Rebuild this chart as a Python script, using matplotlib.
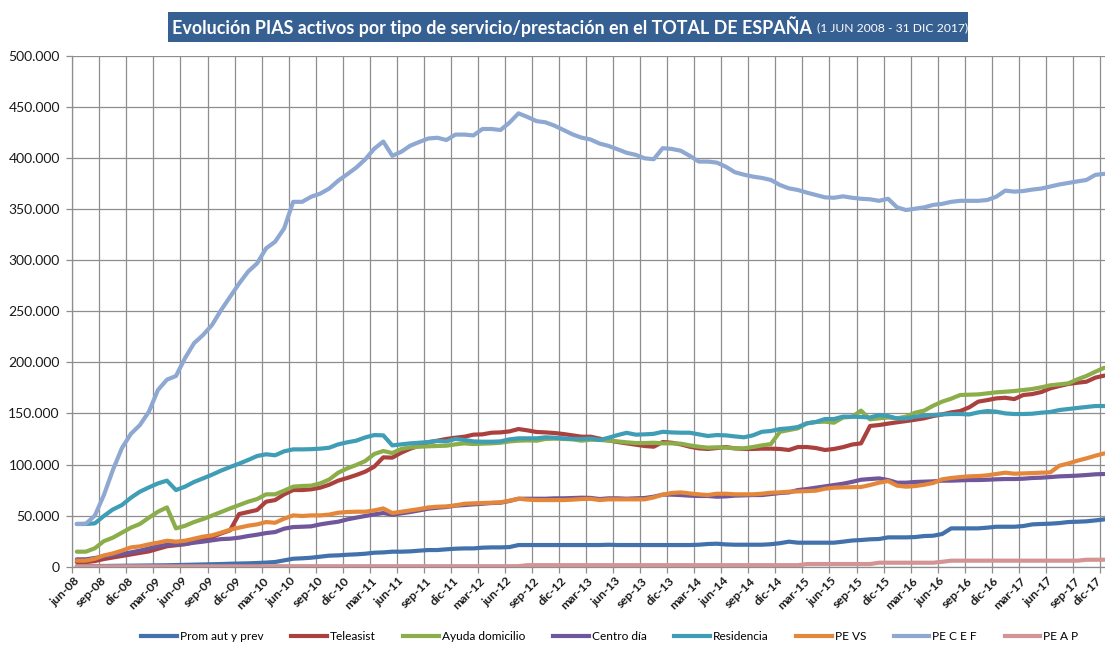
import numpy as np
import matplotlib
matplotlib.use('Agg')
import matplotlib.pyplot as plt
import matplotlib.transforms as mtrans
from matplotlib.patches import Rectangle
from matplotlib.lines import Line2D

plt.rcParams['font.family'] = ['Lato', 'DejaVu Sans']

# ---------------- data (values in thousands of people, monthly jun-08 .. dic-17) -------------
tick_labels = ['jun-08', 'sep-08', 'dic-08', 'mar-09', 'jun-09', 'sep-09', 'dic-09', 'mar-10',
               'jun-10', 'sep-10', 'dic-10', 'mar-11', 'jun-11', 'sep-11', 'dic-11', 'mar-12',
               'jun-12', 'sep-12', 'dic-12', 'mar-13', 'jun-13', 'sep-13', 'dic-13', 'mar-14',
               'jun-14', 'sep-14', 'dic-14', 'mar-15', 'jun-15', 'sep-15', 'dic-15', 'mar-16',
               'jun-16', 'sep-16', 'dic-16', 'mar-17', 'jun-17', 'sep-17', 'dic-17']

series_names = ['Prom aut y prev', 'Teleasist', 'Ayuda domicilio', 'Centro día',
                'Residencia', 'PE VS', 'PE C E F', 'PE A P']

prom_aut = [0.5, 0.5, 0.6, 0.7, 0.8, 0.9, 1.0, 1.1, 1.2, 1.3, 1.4, 1.6, 1.8, 2.0, 2.2, 2.4, 2.6, 2.9, 3.1, 3.3,
            3.6, 4.0, 4.6, 6.2, 7.8, 8.2, 8.8, 9.8, 10.8, 11.1, 11.7, 12.1, 12.7, 13.7, 14.0, 14.7, 14.7, 15.0, 15.7, 16.3,
            16.3, 17.0, 17.6, 17.9, 17.9, 18.6, 18.9, 18.9, 19.2, 21.2, 21.2, 21.2, 21.2, 21.2, 21.2, 21.2, 21.2, 21.2, 21.2, 21.5,
            21.2, 21.2, 21.2, 21.2, 21.2, 21.2, 21.2, 21.2, 21.2, 21.5, 22.2, 22.5, 21.8, 21.5, 21.5, 21.5, 21.5, 22.0, 23.0, 24.5,
            23.5, 23.5, 23.5, 23.5, 23.5, 24.5, 25.6, 26.1, 26.8, 27.1, 28.7, 28.7, 28.7, 29.0, 30.0, 30.3, 32.0, 37.5, 37.5, 37.5,
            37.5, 38.2, 39.1, 39.1, 39.1, 39.8, 41.4, 41.8, 42.1, 42.7, 43.7, 44.0, 44.4, 45.3, 46.3]

teleasist = [4.5, 4.5, 5.5, 7.5, 9.0, 10.5, 12.0, 13.5, 15.0, 17.5, 20.0, 21.0, 22.0, 24.0, 26.0, 29.0, 32.5, 35.6, 51.5, 53.5,
             55.5, 63.6, 65.2, 70.8, 75.0, 75.0, 75.7, 77.3, 80.2, 84.2, 86.8, 89.7, 93.0, 97.9, 107.0, 106.7, 111.6, 115.5, 118.4, 121.7,
             123.3, 125.0, 126.2, 127.2, 129.2, 129.5, 131.1, 131.4, 132.4, 134.7, 133.4, 131.8, 131.4, 130.8, 129.8, 128.5, 127.2, 127.2, 125.3, 123.6,
             122.0, 120.7, 119.4, 118.1, 117.4, 122.0, 121.3, 119.7, 117.4, 115.8, 115.2, 116.1, 117.1, 115.8, 115.2, 115.2, 115.5, 115.5, 115.2, 114.2,
             117.1, 117.1, 116.1, 114.2, 115.2, 117.0, 119.5, 120.7, 137.7, 138.6, 140.0, 141.3, 142.5, 143.8, 145.2, 147.4, 149.0, 151.0, 152.3, 155.9,
             161.5, 163.0, 164.7, 165.3, 164.0, 168.0, 168.9, 170.9, 174.5, 176.8, 178.8, 180.0, 181.0, 185.0, 187.0]

ayuda_dom = [14.7, 14.7, 18.0, 25.0, 28.4, 33.3, 38.2, 41.8, 48.0, 53.8, 58.0, 37.5, 40.0, 43.7, 46.6, 50.0, 53.5, 57.0, 60.3, 63.6,
             66.2, 70.8, 70.8, 74.4, 78.3, 79.0, 79.3, 81.5, 85.3, 92.0, 96.2, 99.5, 103.4, 110.3, 113.2, 111.2, 115.2, 116.8, 117.4, 117.8,
             118.1, 118.4, 119.7, 120.7, 120.0, 120.4, 120.7, 121.3, 122.6, 123.3, 123.6, 123.3, 125.0, 125.3, 125.0, 124.6, 123.3, 124.3, 124.0, 123.3,
             122.6, 121.7, 121.0, 121.0, 121.3, 120.7, 120.7, 120.4, 118.7, 117.4, 116.5, 116.8, 116.5, 115.8, 115.8, 117.1, 118.7, 120.0, 132.0, 133.7,
             135.4, 140.3, 141.6, 141.9, 140.9, 146.0, 146.6, 152.7, 144.2, 145.2, 146.0, 145.2, 146.8, 150.7, 152.7, 157.5, 161.5, 164.4, 168.0, 168.3,
             168.6, 169.6, 170.6, 171.2, 171.9, 172.9, 173.9, 175.5, 177.5, 178.4, 179.4, 183.3, 186.6, 190.8, 194.7]

centro_dia = [7.2, 7.2, 8.5, 10.1, 11.4, 12.4, 14.0, 15.7, 17.9, 19.9, 21.5, 21.9, 22.2, 23.5, 24.5, 25.8, 27.0, 27.4, 28.4, 30.0,
              31.3, 32.9, 33.9, 37.2, 38.8, 39.1, 39.5, 41.4, 42.8, 44.0, 46.3, 48.0, 49.6, 51.2, 52.5, 50.9, 52.2, 53.5, 55.1, 56.8,
              57.7, 58.4, 59.7, 60.3, 61.0, 61.6, 62.3, 62.6, 64.3, 66.5, 66.5, 66.5, 66.5, 66.9, 66.9, 67.2, 67.5, 67.3, 66.2, 66.9,
              66.9, 66.5, 66.9, 67.2, 68.5, 70.5, 70.5, 70.1, 69.5, 69.2, 69.2, 68.5, 68.8, 69.5, 69.8, 70.1, 70.1, 71.1, 72.1, 72.7,
              75.0, 76.0, 77.3, 78.6, 79.9, 81.2, 83.0, 85.1, 85.8, 86.4, 84.8, 82.2, 82.2, 82.9, 83.2, 83.5, 84.2, 84.2, 84.5, 84.8,
              84.8, 85.1, 85.5, 85.8, 85.8, 86.1, 86.8, 87.1, 87.7, 88.4, 88.7, 89.1, 89.7, 90.4, 90.7]

residencia = [41.8, 41.8, 42.4, 49.6, 56.0, 60.3, 67.5, 73.4, 77.6, 81.5, 84.2, 75.0, 78.3, 82.9, 86.4, 90.0, 94.0, 97.5, 100.8, 104.4,
              108.3, 110.0, 109.0, 112.9, 114.8, 114.8, 115.0, 115.5, 116.4, 119.7, 121.7, 123.3, 126.5, 128.8, 128.5, 118.7, 119.7, 120.7, 121.3, 122.0,
              123.0, 122.6, 125.0, 124.0, 122.6, 122.3, 122.3, 122.6, 124.6, 125.6, 125.6, 125.6, 126.6, 126.2, 125.6, 125.0, 125.0, 125.4, 124.0, 126.2,
              128.8, 131.0, 129.2, 129.5, 130.0, 132.0, 131.4, 131.1, 131.1, 129.5, 127.9, 128.8, 128.5, 127.5, 126.6, 128.5, 132.0, 132.8, 134.7, 135.4,
              136.7, 140.3, 141.6, 144.5, 144.5, 146.8, 146.8, 146.5, 146.0, 148.4, 147.4, 145.0, 145.0, 146.8, 147.8, 148.4, 149.0, 149.4, 149.4, 149.0,
              151.0, 152.3, 151.7, 150.0, 149.4, 149.4, 149.7, 150.7, 151.4, 153.3, 154.3, 155.3, 156.3, 157.2, 157.2]

pe_vs = [5.9, 5.9, 7.8, 11.0, 13.0, 15.7, 18.9, 19.9, 21.9, 23.5, 25.4, 24.5, 25.4, 27.4, 29.4, 30.7, 33.3, 36.2, 38.2, 40.1,
         41.4, 43.7, 43.0, 47.0, 50.2, 49.6, 50.2, 50.2, 51.0, 52.8, 53.5, 53.8, 53.8, 55.1, 57.0, 52.5, 53.8, 55.1, 56.4, 58.0,
         58.7, 59.0, 60.0, 61.6, 62.0, 62.3, 62.6, 63.0, 64.6, 66.5, 65.6, 65.2, 65.2, 65.2, 65.2, 65.6, 66.2, 66.4, 65.2, 65.9,
         65.9, 65.9, 65.9, 65.9, 67.8, 70.5, 72.1, 72.7, 71.7, 70.8, 70.1, 71.4, 71.4, 70.8, 70.8, 70.8, 71.4, 72.4, 72.7, 73.4,
         73.7, 74.0, 74.4, 76.3, 77.3, 77.6, 77.8, 78.0, 79.9, 82.2, 83.8, 79.3, 78.3, 78.9, 80.2, 81.9, 85.5, 86.8, 87.7, 88.4,
         88.7, 89.4, 90.7, 92.0, 91.0, 91.3, 91.6, 92.0, 92.3, 98.8, 101.0, 103.7, 106.0, 108.6, 110.9]

pe_cef = [41.8, 42.0, 50.0, 70.0, 94.6, 116.0, 130.0, 138.6, 151.7, 172.9, 183.0, 186.6, 204.0, 218.6, 226.7, 236.5, 251.0, 264.0, 277.0, 288.7,
          296.8, 311.5, 318.0, 331.0, 357.0, 357.0, 362.0, 365.0, 370.0, 377.7, 384.0, 390.5, 398.6, 409.0, 416.0, 402.0, 406.0, 412.0, 415.6, 419.0,
          419.7, 417.5, 422.8, 422.8, 422.0, 428.3, 428.3, 427.3, 434.5, 443.6, 440.0, 436.0, 434.8, 431.5, 427.3, 423.0, 419.8, 418.0, 414.0, 411.7,
          408.4, 405.0, 403.0, 399.6, 398.7, 409.5, 408.8, 407.0, 402.0, 396.4, 396.4, 395.4, 391.4, 386.0, 383.6, 381.7, 380.4, 378.4, 373.5, 370.2,
          368.6, 366.0, 363.7, 361.4, 361.0, 362.4, 361.0, 360.0, 359.5, 358.0, 360.0, 351.6, 349.0, 350.3, 351.6, 354.0, 355.0, 357.0, 358.0, 358.0,
          358.0, 358.8, 362.0, 368.0, 367.0, 367.6, 369.0, 370.0, 372.0, 374.0, 375.5, 377.0, 378.4, 383.4, 384.4]

pe_ap = [0.3, 0.3, 0.3, 0.3, 0.3, 0.3, 0.3, 0.3, 0.3, 0.3, 0.3, 0.3, 0.3, 0.3, 0.3, 0.3, 0.3, 0.3, 0.3, 0.3,
         0.3, 0.5, 0.5, 0.5, 0.5, 0.5, 0.5, 0.5, 0.5, 0.5, 0.5, 0.5, 0.5, 0.5, 0.5, 0.5, 0.5, 0.5, 0.5, 0.5,
         0.5, 0.5, 0.5, 0.5, 0.5, 0.5, 0.5, 0.5, 0.5, 0.5, 1.5, 1.5, 1.5, 1.5, 1.5, 1.5, 1.5, 1.5, 1.5, 1.5,
         1.5, 1.5, 1.5, 1.5, 1.5, 1.5, 1.5, 1.5, 1.5, 1.5, 1.5, 1.5, 1.5, 1.5, 1.5, 1.5, 1.5, 1.5, 1.5, 1.5,
         1.5, 2.6, 2.6, 2.6, 2.6, 2.6, 2.6, 2.6, 2.6, 3.9, 3.9, 3.9, 3.9, 3.9, 3.9, 3.9, 4.8, 5.9, 5.9, 5.9,
         5.9, 5.9, 5.9, 5.9, 5.9, 5.9, 5.9, 5.9, 5.9, 5.9, 5.9, 5.9, 6.8, 6.8, 6.8]

colors = ['#4271ab', '#ab413e', '#8bad4a', '#70569a', '#3f9db6', '#e5873a', '#8ea8d1', '#d49495']

# ---------------- figure ----------------
W, H = 1105, 645
fig = plt.figure(figsize=(W / 100, H / 100), dpi=100)
fig.patch.set_facecolor('white')

n = len(pe_cef)
x = np.arange(n)
# plot area: left edge at 72.3px, each month 9.014px wide (right edge slightly beyond the image)
left_px, top_px, bottom_px = 72.3, 55.7, 566.7
month_px = 9.014
ax = fig.add_axes([left_px / W, (H - bottom_px) / H, n * month_px / W, (bottom_px - top_px) / H])

all_series = [prom_aut, teleasist, ayuda_dom, centro_dia, residencia, pe_vs, pe_cef, pe_ap]
for vals, name, col in zip(all_series, series_names, colors):
    ax.plot(x, np.array(vals) * 1000, color=col, lw=3.0, label=name,
            solid_joinstyle='round', solid_capstyle='round', zorder=3)

ax.set_xlim(-0.5, n - 0.5)
ax.set_ylim(0, 500000)

grid_col = '#8e8e8e'
ax.set_yticks(np.arange(0, 500001, 50000))
ax.set_yticklabels([f"{int(v):,}".replace(',', '.') for v in np.arange(0, 500001, 50000)],
                   fontsize=10, color='#1a1a1a')

# category labels every 3 months, drawn as rotated texts under the axis
label_pos = x[::3]
ax.set_xticks(label_pos)
ax.set_xticklabels([])
ax.tick_params(axis='x', which='major', length=0)
for i, (pos, lab) in enumerate(zip(label_pos, tick_labels)):
    dx = -2.2 if i < len(tick_labels) - 1 else -6.5
    tr = mtrans.offset_copy(ax.get_xaxis_transform(), fig=fig, x=dx, y=-6, units='points')
    ax.text(pos, 0, lab, transform=tr, rotation=45, ha='right', va='top',
            rotation_mode='anchor', fontsize=8.8, fontweight='bold', color='#1a1a1a',
            clip_on=False)

ax.set_xticks(np.arange(-0.5, n, 3), minor=True)
ax.tick_params(axis='x', which='minor', length=4, color=grid_col, width=0.9)
ax.tick_params(axis='y', which='major', length=4, color=grid_col, width=0.9, pad=5)

ax.grid(which='minor', axis='x', color=grid_col, lw=0.9)
ax.grid(which='major', axis='y', color=grid_col, lw=0.9)
ax.set_axisbelow(True)
for s in ['top', 'right']:
    ax.spines[s].set_visible(False)
for s in ['left', 'bottom']:
    ax.spines[s].set_color(grid_col)
    ax.spines[s].set_linewidth(0.9)

# ---------------- title box ----------------
box_col = '#376092'
fig.patches.append(Rectangle((168 / W, (H - 42) / H), 800 / W, 30 / H, transform=fig.transFigure,
                             facecolor=box_col, edgecolor='none', zorder=1))
t1 = fig.text(172 / W, (H - 27) / H,
              'Evolución PIAS activos por tipo de servicio/prestación en el TOTAL DE ESPAÑA',
              color='white', fontsize=12.85, fontweight='bold', ha='left', va='center', zorder=2)
fig.canvas.draw()
bb = t1.get_window_extent()
fig.text((bb.x1 + 5) / W, (H - 28) / H, '(1 JUN 2008 - 31 DIC 2017)', color='white',
         fontsize=8.7, ha='left', va='center', zorder=2)

# ---------------- legend ----------------
handles = [Line2D([0], [0], color=c, lw=3.0) for c in colors]
fig.legend(handles, series_names, loc='center left', bbox_to_anchor=(141 / W, 8 / H),
           ncol=8, frameon=False, handlelength=3.0, columnspacing=2.3, handletextpad=0.25,
           fontsize=8.6, borderpad=0, borderaxespad=0)

fig.savefig('out.png', dpi=100)
